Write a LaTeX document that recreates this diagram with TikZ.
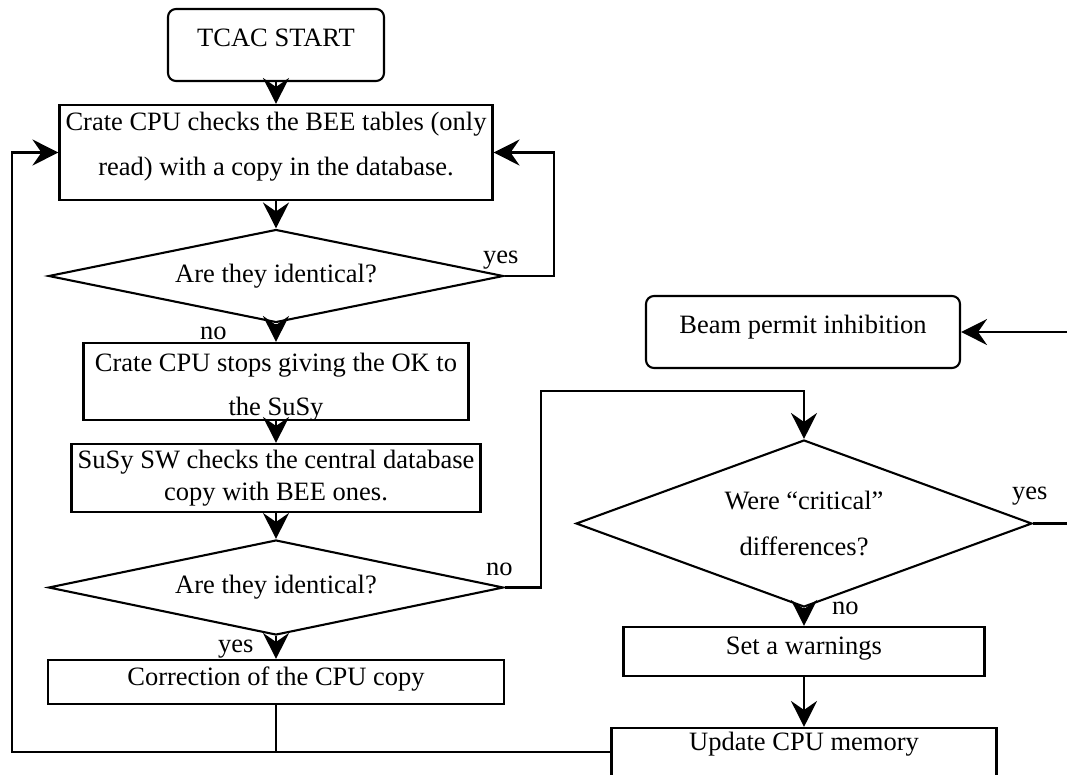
\documentclass[tikz,border=0pt]{standalone}
\usepackage{fontspec}
\setmainfont{Liberation Serif}
\usetikzlibrary{arrows.meta,positioning,shapes.geometric}

\tikzset{
  flow/.style={draw,line width=2.1pt,inner xsep=0pt,inner ysep=0pt,align=center},
  procbox/.style={flow,rectangle},
  termbox/.style={flow,rectangle,rounded corners=8pt},
  testbox/.style={flow,diamond},
  arr/.style={line width=2.1pt,-{Stealth[length=26pt,width=26pt,inset=9pt]}},
  link/.style={line width=2.1pt},
  tag/.style={anchor=base west,inner sep=0pt}
}

\begin{document}
\begin{tikzpicture}[x=1pt,y=-1pt,font=\fontsize{26.5}{31.8}\selectfont]
  \useasboundingbox (0,0) rectangle (1067,774);

  % left column
  \node[termbox,minimum width=216pt,minimum height=72pt,text height=37.5pt,text depth=34.5pt] (start) at (276,45) {TCAC START};
  \node[procbox,minimum width=433pt,minimum height=95pt,text height=70pt,text depth=25pt] (chk) at (276,152.5)
    {Crate CPU checks the BEE tables (only\\[13pt] read) with a copy in the database.};
  \node[testbox,aspect=4.9,minimum width=455pt,minimum height=93pt] (same1) at (276,276) {Are they identical?};
  \node[procbox,minimum width=385pt,minimum height=77pt,text height=72pt,text depth=5pt] (stop) at (276,381.5)
    {Crate CPU stops giving the OK to\\[12pt] the SuSy};
  \node[procbox,minimum width=409pt,minimum height=68pt] (susy) at (276,478)
    {SuSy SW checks the central database\\copy with BEE ones.};
  \node[testbox,aspect=4.9,minimum width=455pt,minimum height=95pt] (same2) at (276,587.5) {Are they identical?};
  \node[procbox,minimum width=456pt,minimum height=44pt,text height=25pt,text depth=19pt] (fix) at (276,682) {Correction of the CPU copy};

  % right column
  \node[termbox,minimum width=314pt,minimum height=72pt,text height=37pt,text depth=35pt] (beam) at (803,332) {Beam permit inhibition};
  \node[testbox,aspect=2.7,minimum width=456pt,minimum height=167pt] (crit) at (804,523.5) {Were “critical”\\[15pt] differences?};
  \node[procbox,minimum width=361pt,minimum height=49pt,text height=27pt,text depth=22pt] (warn) at (804,651.5) {Set a warnings};
  \node[procbox,minimum width=385pt,minimum height=48pt,text height=22pt,text depth=26pt] (upd) at (804,752) {Update CPU memory};

  % branch labels
  \node[tag] (yes1) at (483,263) {yes};
  \node[tag] (no1) at (200,339) {no};
  \node[tag] (no2) at (486,575) {no};
  \node[tag] (yes2) at (218,652) {yes};
  \node[tag] (yes3) at (1012,499) {yes};
  \node[tag] (no3) at (832,614) {no};

  \coordinate (lft) at (12,752);

  \draw[arr] (start.south) -- (chk.north);
  \draw[arr] (chk.south) -- (same1.north);
  \draw[arr] (same1.east) -- ++(49,0) |- (chk.east);
  \draw[arr] (same1.south) -- (stop.north);
  \draw[arr] (stop.south) -- (susy.north);
  \draw[arr] (susy.south) -- (same2.north);
  \draw[arr] (same2.south) -- (fix.north);
  \draw[arr] (same2.east) -- ++(36,0) |- ([yshift=48pt]crit.north) -- (crit.north);
  \draw[arr] (upd.west) -- (lft) |- (chk.west);
  \draw[link] (fix.south) -- (fix.south |- lft);
  \draw[arr] (crit.south) -- (warn.north);
  \draw[arr] (warn.south) -- (upd.north);
  \draw[arr] (crit.east) -- ++(40,0) |- (beam.east);
\end{tikzpicture}
\end{document}
